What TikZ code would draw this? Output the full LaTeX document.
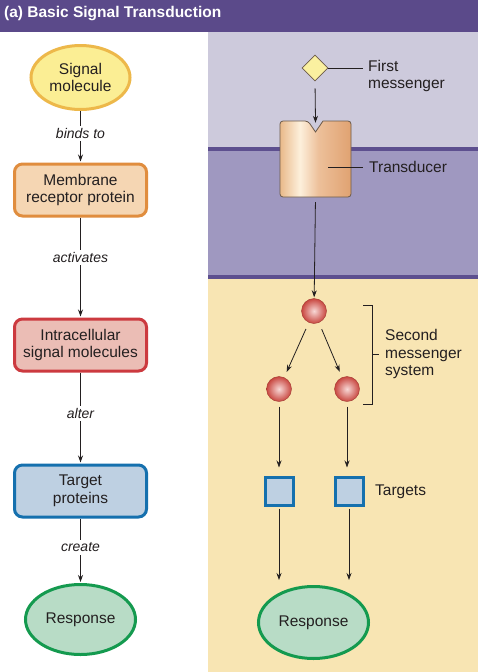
\documentclass[tikz,border=0pt]{standalone}
\usepackage{fontspec}
\setmainfont{Liberation Sans}
\usetikzlibrary{shapes.geometric,arrows.meta,positioning}

\definecolor{hdrc}{HTML}{5B4A8A}
\definecolor{extrac}{HTML}{CDCADC}
\definecolor{membc}{HTML}{9F98C0}
\definecolor{memline}{HTML}{5D4F8F}
\definecolor{cytoc}{HTML}{F8E5B3}
\definecolor{inkc}{HTML}{231F20}
\definecolor{sigfill}{HTML}{FBEE94}
\definecolor{sigline}{HTML}{EDB84A}
\definecolor{recfill}{HTML}{F5D6B3}
\definecolor{recline}{HTML}{E08D3E}
\definecolor{icfill}{HTML}{EBBDB5}
\definecolor{icline}{HTML}{CC3A3F}
\definecolor{tgtfill}{HTML}{BED0E2}
\definecolor{tgtline}{HTML}{1570AE}
\definecolor{respfill}{HTML}{B8DCC6}
\definecolor{respline}{HTML}{149A4F}
\definecolor{fmfill}{HTML}{FAF0A0}
\definecolor{ballin}{HTML}{F8D8D6}
\definecolor{ballout}{HTML}{C8463F}
\definecolor{tdEdge}{HTML}{E9B98A}
\definecolor{tdLight}{HTML}{FDF0DC}
\definecolor{tdMid}{HTML}{EDC09A}
\definecolor{tdDark}{HTML}{E0A271}
\definecolor{tdline}{HTML}{6B5A4A}

\pgfdeclarehorizontalshading{transducer}{100bp}{color(0bp)=(tdEdge); color(25bp)=(tdEdge); color(39bp)=(tdLight); color(52bp)=(tdMid); color(75bp)=(tdDark); color(100bp)=(tdDark)}

\begin{document}
\begin{tikzpicture}[x=1pt, y=-1pt,
    txt/.style={font=\fontsize{15.5}{17.5}\selectfont, text=inkc, align=center},
    lbl/.style={font=\itshape\fontsize{14}{16}\selectfont, text=inkc, fill=white, inner sep=2.5pt},
    box/.style={txt, rectangle, rounded corners=8pt, line width=3pt, minimum width=132pt, minimum height=52pt},
    blob/.style={txt, ellipse, line width=3pt, inner sep=0pt},
    arrow/.style={-{Stealth[length=7pt,width=5pt]}, line width=0.8pt, draw=inkc},
    ball/.style={circle, minimum size=25pt, inner sep=0pt, inner color=ballin, outer color=ballout, draw=ballout!80!black, line width=0.4pt},
    tgt/.style={rectangle, minimum size=28pt, inner sep=0pt, fill=tgtfill, draw=tgtline, line width=3pt},
    side/.style={txt, align=left, anchor=west, inner sep=0pt}
]
    \useasboundingbox (0,0) rectangle (478,672);

    % Panels
    \fill[white] (0,0) rectangle (478,672);
    \fill[extrac] (208,32) rectangle (478,149);
    \fill[membc] (208,149) rectangle (478,277);
    \fill[cytoc] (208,277) rectangle (478,672);
    \fill[memline] (208,147) rectangle (478,151);
    \fill[memline] (208,275) rectangle (478,279);
    \fill[hdrc] (0,0) rectangle (478,32);
    \node[anchor=west, text=white, font=\bfseries\fontsize{15.5}{17.5}\selectfont, inner sep=0pt] (title) at (4,14) {(a) Basic Signal Transduction};

    % Left column
    \node[blob, fill=sigfill, draw=sigline, minimum width=99pt, minimum height=64pt] (sig) at (80.5,77.5) {Signal\\molecule};
    \node[box, fill=recfill, draw=recline] (rec) at (80.5,190) {Membrane\\receptor protein};
    \node[box, fill=icfill, draw=icline] (intra) at (80.5,345) {Intracellular\\signal molecules};
    \node[box, fill=tgtfill, draw=tgtline] (tprot) at (80.5,491) {Target\\proteins};
    \node[blob, fill=respfill, draw=respline, minimum width=110pt, minimum height=70pt] (resp) at (80.5,619.5) {Response};

    \draw[arrow, shorten >=1pt] (sig) -- node[lbl, pos=0.44] {binds to} (rec);
    \draw[arrow, shorten >=1pt] (rec) -- node[lbl, pos=0.4] {activates} (intra);
    \draw[arrow, shorten >=1pt] (intra) -- node[lbl, pos=0.45] {alter} (tprot);
    \draw[arrow, shorten >=1pt] (tprot) -- node[lbl, pos=0.45] {create} (resp);

    % Right column: first messenger and transducer
    \node[diamond, minimum width=26pt, minimum height=26pt, inner sep=0pt, fill=fmfill, draw=tdline, line width=0.6pt] (fm) at (315,68) {};
    \node[side] (fmtxt) at (368,76) {First\\messenger};
    \coordinate (fmend) at (363,68);
    \draw[inkc, line width=0.7pt] (fm.east) -- (fmend);

    \shade[shading=transducer, draw=tdline, line width=0.8pt, rounded corners=3pt]
        (280,121) -- (308,121) [sharp corners] -- (315.5,132) -- (323,121) [rounded corners=3pt] -- (351,121) -- (351,197) -- (280,197) -- cycle;
    \node[minimum width=71pt, minimum height=76pt, inner sep=0pt] (trans) at (315.5,159) {};
    \node[side] (tdtxt) at (369,167) {Transducer};
    \coordinate (tdin) at (328,167);
    \coordinate (tdend) at (363,167);
    \draw[inkc, line width=0.7pt] (tdin) -- (tdend);

    \draw[arrow, shorten <=7pt, shorten >=-2pt] (fm.south) -- (trans.north);

    % Second messenger system
    \node[ball] (b0) at (314,311) {};
    \node[ball] (b1) at (279,389) {};
    \node[ball] (b2) at (347,389) {};
    \draw[arrow, shorten <=5pt, shorten >=1pt] (trans.south) -- (b0);
    \draw[arrow, shorten <=7pt, shorten >=6pt] (b0) -- (b1);
    \draw[arrow, shorten <=7pt, shorten >=6pt] (b0) -- (b2);

    \draw[inkc, line width=0.8pt] (363,305) -- (372,305) -- (372,404) -- (363,404);
    \draw[inkc, line width=0.8pt] (372,354.5) -- (379,354.5);
    \node[side] (smtxt) at (385,354) {Second\\messenger\\system};

    % Targets
    \node[tgt] (t1) at (279,491) {};
    \node[tgt] (t2) at (349,491) {};
    \node[side] (tgtxt) at (375,492) {Targets};
    \draw[arrow, shorten <=5pt, shorten >=8pt] (b1) -- (t1);
    \draw[arrow, shorten <=5pt, shorten >=8pt] (b2.south) -- (b2.south |- t2.north);

    % Response
    \node[blob, fill=respfill, draw=respline, minimum width=110pt, minimum height=72pt] (resp2) at (313.5,622.5) {Response};
    \draw[arrow, shorten <=2pt, shorten >=5pt] (t1.south) -- (t1.south |- resp2.north);
    \draw[arrow, shorten <=2pt, shorten >=5pt] (t2.south) -- (t2.south |- resp2.north);

\end{tikzpicture}
\end{document}
